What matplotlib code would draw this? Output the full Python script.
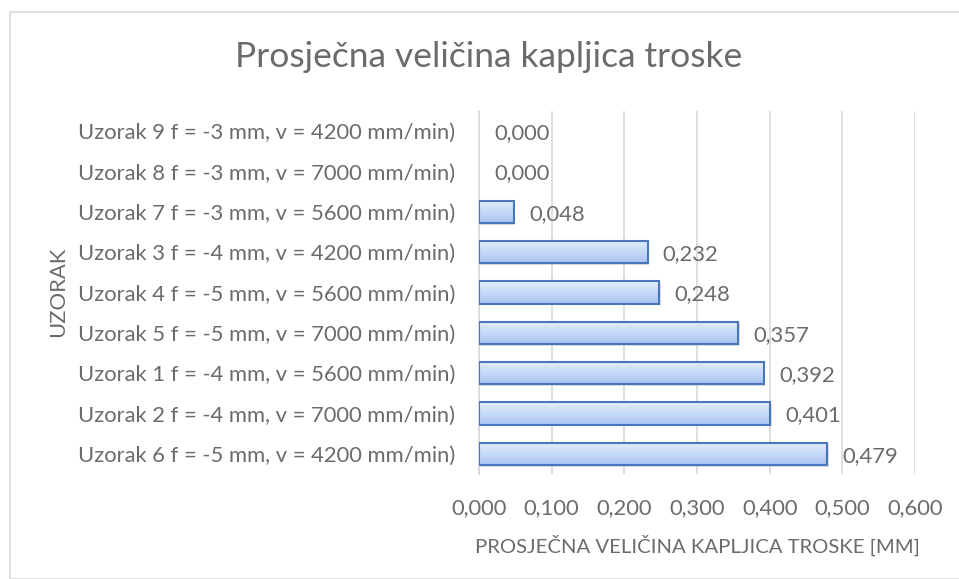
import numpy as np
import matplotlib.pyplot as plt
from matplotlib.patches import Rectangle
from matplotlib.colors import LinearSegmentedColormap

# Uzorci i prosjecne velicine kapljica (mm), odozdo prema gore
uzorci = [
    "Uzorak 6 f = -5 mm, v = 4200 mm/min)",
    "Uzorak 2 f = -4 mm, v = 7000 mm/min)",
    "Uzorak 1 f = -4 mm, v = 5600 mm/min)",
    "Uzorak 5 f = -5 mm, v = 7000 mm/min)",
    "Uzorak 4 f = -5 mm, v = 5600 mm/min)",
    "Uzorak 3 f = -4 mm, v = 4200 mm/min)",
    "Uzorak 7 f = -3 mm, v = 5600 mm/min)",
    "Uzorak 8 f = -3 mm, v = 7000 mm/min)",
    "Uzorak 9 f = -3 mm, v = 4200 mm/min)",
]
velicine = [0.479, 0.401, 0.392, 0.357, 0.248, 0.232, 0.048, 0.000, 0.000]
x_ticks = [0.0, 0.1, 0.2, 0.3, 0.4, 0.5, 0.6]

siva = '#6b6b6b'
fs = 15.8
plt.rcParams['font.family'] = ['Lato', 'DejaVu Sans']

fig = plt.figure(figsize=(9.59, 5.79), dpi=100)

# Okvir grafikona
fig.patches.append(Rectangle((10 / 959, 0), 1, 1 - 12 / 579, transform=fig.transFigure,
                             fill=False, edgecolor='#d9d9d9', linewidth=1.2))

ax = fig.add_axes([479 / 959, 1 - 474 / 579, 436 / 959, 363 / 579])

y = np.arange(len(uzorci))
h = 0.55

# Gradijent za ispunu stupaca
grad = np.linspace(0, 1, 64).reshape(-1, 1)
cmap = LinearSegmentedColormap.from_list('plava', ['#a9c4f2', '#e4eefd'])

for yi, v in zip(y, velicine):
    if v > 0:
        # sjena
        ax.add_patch(Rectangle((0, yi - h / 2 - 0.04), v + 0.002, h, facecolor='#bfbfbf',
                               edgecolor='none', alpha=0.5, zorder=1))
        ax.imshow(grad, cmap=cmap, aspect='auto', origin='lower',
                  extent=(0, v, yi - h / 2, yi + h / 2), zorder=2)
        ax.add_patch(Rectangle((0, yi - h / 2), v, h, facecolor='none',
                               edgecolor='#4a76bd', linewidth=1.5, zorder=3))
    ax.annotate(f"{v:.3f}".replace('.', ','), (v, yi), xytext=(11, -1.5),
                textcoords='offset points', va='center', ha='left',
                color=siva, fontsize=fs)

ax.set_xlim(0, 0.6)
ax.set_ylim(-0.5, len(uzorci) - 0.5)
ax.set_xticks(x_ticks)
ax.set_xticklabels([f"{t:.3f}".replace('.', ',') for t in x_ticks])
ax.set_yticks(y)
ax.set_yticklabels(uzorci)
ax.tick_params(axis='both', length=0, colors=siva, labelsize=fs)
ax.tick_params(axis='x', pad=17)
ax.tick_params(axis='y', pad=17)
ax.grid(axis='x', color='#d9d9d9', linewidth=1.2)
ax.set_axisbelow(True)
for s in ['top', 'right', 'bottom']:
    ax.spines[s].set_visible(False)
ax.spines['left'].set_color('#d9d9d9')
ax.spines['left'].set_linewidth(1.2)

ax.set_xlabel("PROSJEČNA VELIČINA KAPLJICA TROSKE [MM]", color=siva, fontsize=14.6, labelpad=12)
fig.text(58 / 959, 1 - 292 / 579, "UZORAK", rotation=90, color=siva, fontsize=fs,
         ha='center', va='center')
fig.text(489 / 959, 1 - 57 / 579, "Prosječna veličina kapljica troske", color=siva,
         fontsize=25.5, ha='center', va='center')

fig.savefig('out.png', dpi=100)
